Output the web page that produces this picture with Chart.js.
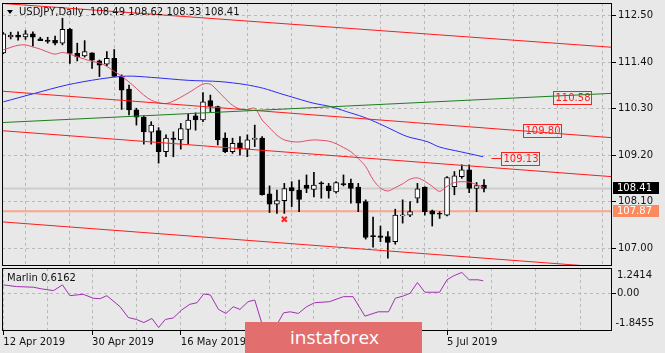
<!DOCTYPE html>
<html>
<head>
<meta charset="utf-8">
<script src="https://cdn.jsdelivr.net/npm/chart.js@4.4.0/dist/chart.umd.min.js"></script>
<style>
  html, body { margin: 0; padding: 0; width: 665px; height: 353px; overflow: hidden; background: #e8e8e8; }
  body { font-family: "DejaVu Sans", sans-serif; color: #111; }
  #main { position: absolute; left: 0; top: 0; }
  #sub { position: absolute; left: 0; top: 267px; }
  .caption { position: absolute; font-size: 10px; line-height: 12px; white-space: pre; color: #111; }
  #tri { position: absolute; left: 7px; top: 10px; width: 0; height: 0;
         border-left: 3px solid transparent; border-right: 3px solid transparent; border-top: 4px solid #000; }
  #brand { position: absolute; left: 245px; top: 322px; width: 177px; height: 31px; background: #e36e6e;
           color: #fff; font: 19px "Open Sans", sans-serif; line-height: 31px; box-sizing: border-box; padding-left: 45px; }
</style>
</head>
<body>
<canvas id="main" width="665" height="267"></canvas>
<canvas id="sub" width="665" height="86"></canvas>
<div id="tri"></div>
<div class="caption" style="left:19px; top:6px;">USDJPY,Daily  108.49 108.62 108.33 108.41</div>
<div class="caption" style="left:7px; top:272px;">Marlin 0.6162</div>
<div id="brand">instaforex</div>

<script>
// daily candles, bar 0 = 12 Apr 2019, bar 65 = 12 Jul 2019
var opens  = [111.62,112.00,112.04,112.00,112.07,111.95,111.92,111.92,111.85,112.18,
              111.61,111.55,111.62,111.43,111.35,111.49,111.06,110.76,110.27,110.10,
              109.74,109.78,109.28,109.60,109.56,109.81,110.13,110.03,110.49,110.35,
              109.60,109.28,109.49,109.34,109.57,109.60,108.28,108.04,108.12,108.43,
              108.37,108.49,108.39,108.53,108.47,108.33,108.52,108.53,108.44,108.10,
              107.28,107.29,107.27,107.15,107.76,107.78,108.18,108.44,107.88,107.81,
              107.78,108.45,108.69,108.85,108.41,108.49];
var highs  = [112.10,112.11,112.12,112.15,112.12,111.99,111.99,112.02,112.44,112.20,
              111.85,111.91,111.62,111.45,111.65,111.70,111.10,110.86,110.31,110.13,
              109.99,109.85,109.68,109.75,109.95,110.17,110.20,110.68,110.62,110.36,
              109.73,109.60,109.64,109.68,109.91,109.64,108.47,108.37,108.53,108.57,
              108.61,108.73,108.79,108.57,108.53,108.57,108.73,108.63,108.53,108.14,
              107.73,107.52,107.39,107.92,108.14,108.10,108.53,108.45,107.90,107.86,
              108.69,108.81,108.97,108.97,108.55,108.62];
var lows   = [111.60,111.95,111.92,111.94,111.78,111.91,111.85,111.81,111.81,111.37,
              111.43,111.52,111.25,111.06,111.31,111.06,110.28,110.15,109.91,109.46,
              109.46,109.01,109.16,109.16,109.34,109.46,109.79,109.99,110.23,109.44,
              109.26,109.24,109.20,109.16,109.40,108.25,107.84,107.82,107.82,107.98,
              107.86,108.31,108.21,108.18,108.18,108.30,108.47,108.06,107.86,107.21,
              107.02,107.15,106.76,107.09,107.59,107.74,108.07,107.78,107.52,107.70,
              107.76,108.26,108.65,108.31,107.86,108.33];
var closes = [112.07,112.04,111.99,112.07,111.99,111.91,111.89,111.85,112.18,111.61,
              111.53,111.65,111.45,111.33,111.49,111.06,110.74,110.27,110.10,109.75,
              109.91,109.28,109.60,109.57,109.83,110.03,110.03,110.46,110.35,109.56,
              109.28,109.48,109.34,109.56,109.60,108.26,108.04,108.12,108.41,108.35,
              108.15,108.41,108.49,108.52,108.36,108.55,108.50,108.41,108.06,107.25,
              107.27,107.25,107.13,107.78,107.77,107.86,108.40,107.86,107.80,107.80,
              108.67,108.71,108.85,108.41,108.48,108.41];

// fast moving average, one value per bar
var maFast = [111.69,111.75,111.80,111.81,111.76,111.71,111.64,111.59,111.63,111.59,
              111.53,111.47,111.42,111.38,111.30,111.18,111.07,110.93,110.78,110.62,
              110.50,110.44,110.42,110.48,110.57,110.67,110.78,110.88,110.88,110.72,
              110.54,110.38,110.29,110.28,110.31,110.03,109.85,109.67,109.56,109.52,
              109.51,109.54,109.56,109.55,109.53,109.47,109.38,109.28,109.12,108.93,
              108.62,108.42,108.35,108.43,108.52,108.63,108.66,108.58,108.46,108.34,
              108.46,108.55,108.57,108.56,108.50,108.43];

// slow moving average, read at these bar positions
var maSlowAt = [0, 4, 8.6, 13, 16.7, 20, 25, 29.3, 32.7, 35.2, 37.4, 39.7, 41.9,
                44.2, 46.4, 48.7, 50.9, 52.7, 54.6, 57.3, 59, 61.8, 64.9];
var maSlow   = [110.46,110.65,110.86,111.00,111.07,111.04,110.97,110.94,110.87,110.78,110.66,110.54,110.43,
                110.35,110.23,110.10,109.94,109.79,109.64,109.52,109.39,109.28,109.16];

// trend lines: value at bar -1 and at bar 83
var redLinesStart = [112.801, 110.724, 109.789, 107.630];
var redLinesEnd   = [111.744, 109.603, 108.680, 106.522];
var greenStart = 109.963, greenEnd = 110.668;

var supportLevel = 107.87;
var lastPrice = 108.41;
var markAt = [38], markVal = [107.68];

var tagValues = [109.13, 109.80, 110.58];

var priceTicks = [112.50, 111.40, 110.30, 109.20, 108.10, 107.00];

// oscillator panel
var marlinAt  = [0, 1.8, 4.06, 5.2, 6.8, 8.0, 9.0, 10.8, 12.2, 13.1, 14.0, 15.8, 16.9, 18.0, 19.0, 20.1,
                 21.0, 21.9, 23.0, 24.1, 25.2, 26.2, 27.1, 28.0, 29.1, 30.1, 31.1, 32.0, 33.1, 34.0,
                 34.9, 36.0, 37.2, 37.9, 38.8, 39.9, 41.0, 42.1, 44.1, 46.0, 47.3, 48.9, 50.7, 52.1,
                 53.0, 54.1, 55.0, 56.0, 57.0, 59.0, 60.0, 60.9, 62.0, 63.0, 64.2, 64.9];
var marlinVal = [0.415, 0.331, 0.301, 0.217, 0.133, 0.415, -0.114, -0.045, -0.243, -0.262, -0.114, -0.658,
                 -1.183, -1.281, -1.430, -1.232, -1.677, -1.281, -1.202, -0.821, -0.540, -0.460, -0.030,
                 -0.080, -0.787, -0.985, -0.658, -0.787, -0.410, -0.327, -1.400, -1.700, -1.400, -0.955,
                 -0.905, -0.985, -0.658, -0.460, -0.410, -0.163, -0.163, -1.118, -0.905, -0.905, -0.243,
                 -0.129, 0.004, 0.529, 0.054, 0.054, 0.663, 0.860, 1.024, 0.663, 0.663, 0.616];
var marlinTicks = [1.2414, 0.00, -1.8455];

var gridAt = [0, 6, 12, 18, 24, 30, 36, 42, 48, 54, 60, 66, 72, 78];
var dateAt = [0, 12, 24, 36, 48, 60];
var dateLabels = ['12 Apr 2019', '30 Apr 2019', '16 May 2019', '3 Jun 2019', '19 Jun 2019', '5 Jul 2019'];

Chart.defaults.font.family = '"DejaVu Sans", sans-serif';
Chart.defaults.font.size = 10;
Chart.defaults.color = '#111';

var xMin = -0.176, xMax = 82.31;
var gridGray = '#b9b9b9';

var bars = opens.map(function (v, i) { return i; });

function segment(a, b) { return [{ x: -1, y: a }, { x: 83, y: b }]; }

// keep the plot area where it is, whatever the labels need
function noPad(s) { s.paddingTop = 0; s.paddingBottom = 0; s.paddingLeft = 0; s.paddingRight = 0; }

var frame = {
    id: 'frame',
    afterDraw: function (chart) {
        var a = chart.chartArea, ctx = chart.ctx;
        ctx.save();
        ctx.strokeStyle = '#000';
        ctx.lineWidth = 1;
        ctx.strokeRect(a.left + 0.5, a.top + 0.5, a.right - a.left - 1, a.bottom - a.top - 1);
        ctx.restore();
    }
};

var tags = {
    id: 'tags',
    afterDraw: function (chart) {
        var ctx = chart.ctx, x = chart.scales.x, y = chart.scales.y;
        var boxAt = [67.3, 70.28, 74.33];
        ctx.save();
        ctx.font = '10px "DejaVu Sans"';
        ctx.textBaseline = 'middle';
        ctx.lineWidth = 1;
        tagValues.forEach(function (v, k) {
            var py = Math.round(y.getPixelForValue(v)) + 0.5;
            var bx = Math.round(x.getPixelForValue(boxAt[k])) + 0.5;
            var txt = v.toFixed(2);
            var w = Math.ceil(ctx.measureText(txt).width) + 3;
            ctx.strokeStyle = '#ff1e1e';
            ctx.fillStyle = '#ff1e1e';
            ctx.strokeRect(bx, py - 6, w, 13);
            ctx.fillText(txt, bx + 2, py + 1);
            if (k === 0) {
                ctx.beginPath();
                ctx.moveTo(bx - 10, py);
                ctx.lineTo(bx, py);
                ctx.stroke();
            }
        });
        // price boxes on the axis
        [[lastPrice, '#000'], [supportLevel, '#fb8a5e']].forEach(function (p) {
            var py = Math.round(y.getPixelForValue(p[0]));
            ctx.fillStyle = p[1];
            ctx.fillRect(613, py - 6, 46, 12);
            ctx.fillStyle = '#fff';
            ctx.fillText(p[0].toFixed(2), 617, py + 0.5);
        });
        ctx.restore();
    }
};

var mainDatasets = [
    { type: 'line', data: segment(supportLevel, supportLevel), borderColor: 'rgba(250,165,140,1)', borderWidth: 2, pointRadius: 0, order: 5 },
    { type: 'line', data: segment(lastPrice, lastPrice), borderColor: '#cdcdcd', borderWidth: 2, pointRadius: 0, order: 5 },
    { type: 'bar', data: bars.map(function (i) { return { x: i, y: [lows[i], highs[i]] }; }),
      backgroundColor: '#000', barThickness: 1, grouped: false, order: 4 },
    { type: 'bar', data: bars.map(function (i) { return { x: i, y: [opens[i], closes[i]] }; }),
      backgroundColor: function (c) { return closes[c.dataIndex] >= opens[c.dataIndex] ? '#fff' : '#000'; },
      borderColor: '#000', borderWidth: 1, borderSkipped: false, barThickness: 5, minBarLength: 1,
      grouped: false, order: 3 },
    { type: 'line', data: bars.map(function (i) { return { x: i, y: maFast[i] }; }),
      borderColor: '#e24b6b', borderWidth: 1, pointRadius: 0, tension: 0.3, order: 1 },
    { type: 'line', data: maSlowAt.map(function (v, k) { return { x: v, y: maSlow[k] }; }),
      borderColor: '#2b2bf2', borderWidth: 1, pointRadius: 0, tension: 0.3, order: 1 },
    { type: 'line', data: segment(greenStart, greenEnd), borderColor: '#1e7d1e', borderWidth: 1, pointRadius: 0, order: 0 },
    { type: 'scatter', data: markAt.map(function (v, k) { return { x: v, y: markVal[k] }; }),
      pointStyle: 'crossRot', pointRadius: 3.5, borderColor: '#ff2020', borderWidth: 2, order: 0 }
];
redLinesStart.forEach(function (s, k) {
    mainDatasets.push({ type: 'line', data: segment(s, redLinesEnd[k]), borderColor: '#ff1a1a', borderWidth: 1, pointRadius: 0, order: 0 });
});

new Chart(document.getElementById('main'), {
    type: 'bar',
    data: { datasets: mainDatasets },
    options: {
        responsive: false,
        animation: false,
        events: [],
        layout: { autoPadding: false, padding: { left: 2, top: 3, right: 0, bottom: 1 } },
        plugins: { legend: { display: false }, tooltip: { enabled: false } },
        scales: {
            x: {
                type: 'linear', min: xMin, max: xMax, offset: false,
                afterBuildTicks: function (s) { s.ticks = gridAt.map(function (v) { return { value: v }; }); },
                afterFit: function (s) { s.height = 0; noPad(s); },
                ticks: { display: false },
                grid: { color: gridGray, drawTicks: false },
                border: { display: false, dash: [3, 3] }
            },
            y: {
                position: 'right', min: 106.574, max: 112.801,
                afterBuildTicks: function (s) { s.ticks = priceTicks.map(function (v) { return { value: v }; }); },
                afterFit: function (s) { s.width = 53; noPad(s); },
                ticks: { padding: 2, callback: function (v) { return v.toFixed(2); } },
                grid: { color: gridGray, tickLength: 4, tickColor: '#000' },
                border: { display: false, dash: [3, 3] }
            }
        }
    },
    plugins: [frame, tags]
});

var sideLabels = {
    id: 'sideLabels',
    afterDraw: function (chart) {
        var ctx = chart.ctx, a = chart.chartArea, y = chart.scales.y;
        var pos = [a.top + 7.7, y.getPixelForValue(0), a.bottom - 7.7];
        ctx.save();
        ctx.font = '10px "DejaVu Sans"';
        ctx.fillStyle = '#111';
        ctx.textBaseline = 'middle';
        marlinTicks.forEach(function (v, k) {
            var t = k === 1 ? v.toFixed(2) : v.toFixed(4);
            ctx.fillText(t, v < 0 ? 615.5 : 617, pos[k]);
        });
        ctx.restore();
    }
};

new Chart(document.getElementById('sub'), {
    type: 'line',
    data: {
        datasets: [{
            data: marlinAt.map(function (v, k) { return { x: v, y: marlinVal[k] }; }),
            borderColor: '#a12fb0', borderWidth: 1, pointRadius: 0, tension: 0
        }]
    },
    options: {
        responsive: false,
        animation: false,
        events: [],
        layout: { autoPadding: false, padding: { left: 2, top: 1, right: 0, bottom: 0 } },
        plugins: { legend: { display: false }, tooltip: { enabled: false } },
        scales: {
            x: {
                type: 'linear', min: xMin, max: xMax, offset: false,
                afterBuildTicks: function (s) { s.ticks = gridAt.map(function (v) { return { value: v }; }); },
                afterFit: function (s) { s.height = 22; noPad(s); },
                ticks: {
                    autoSkip: false, maxRotation: 0, align: 'start', padding: 1,
                    callback: function (v) { var k = dateAt.indexOf(v); return k < 0 ? '' : dateLabels[k]; }
                },
                grid: {
                    color: gridGray, tickLength: 4,
                    tickColor: function (c) { return dateAt.indexOf(c.tick.value) < 0 ? 'rgba(0,0,0,0)' : '#000'; }
                },
                border: { display: false, dash: [3, 3] }
            },
            y: {
                position: 'right', min: marlinTicks[2], max: marlinTicks[0],
                afterBuildTicks: function (s) { s.ticks = [{ value: 0 }]; },
                afterFit: function (s) { s.width = 53; noPad(s); },
                ticks: { display: false },
                grid: { color: gridGray, tickLength: 4, tickColor: '#000' },
                border: { display: false, dash: [3, 3] }
            }
        }
    },
    plugins: [frame, sideLabels]
});
</script>
</body>
</html>
